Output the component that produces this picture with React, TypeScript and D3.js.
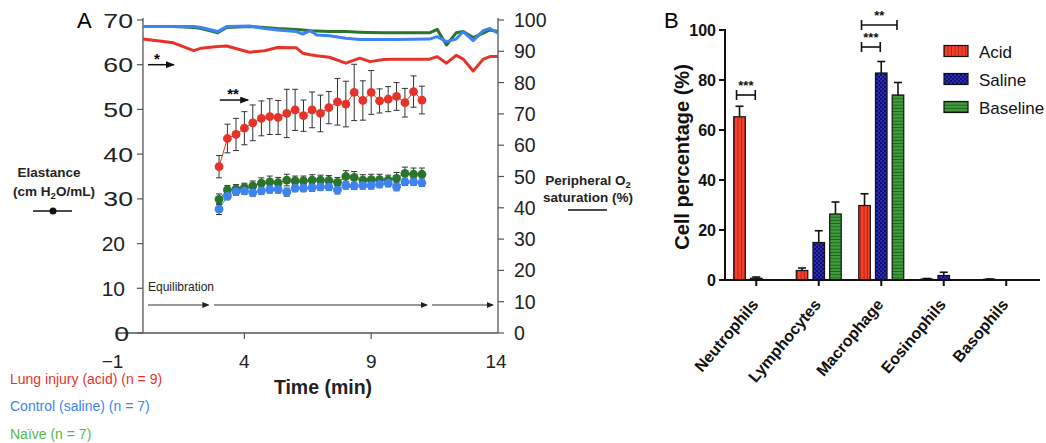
import React from 'react';
import * as d3 from 'd3';

// ---------- Panel A data ----------
const elastTime = [3, 3.33, 3.67, 4, 4.33, 4.67, 5, 5.33, 5.67, 6, 6.33, 6.67, 7, 7.33, 7.67, 8, 8.33, 8.67, 9, 9.33, 9.67, 10, 10.33, 10.67, 11];
const acidE = [37.2, 43.5, 44.4, 45.8, 47.0, 48.0, 48.4, 48.2, 49.1, 49.9, 48.6, 49.9, 49.1, 50.4, 51.7, 51.2, 53.8, 52.0, 53.8, 51.9, 52.3, 52.9, 51.5, 54.0, 52.1];
const acidEErr = [2.5, 3.2, 3.6, 3.7, 4.0, 3.9, 4.0, 3.8, 5.4, 4.6, 3.5, 4.0, 4.1, 3.6, 5.2, 5.1, 6.3, 4.4, 4.9, 2.7, 2.8, 3.1, 3.2, 3.5, 3.1];
const naiveE = [29.9, 32.0, 32.2, 32.5, 32.9, 33.5, 33.8, 33.6, 34.2, 34.0, 34.0, 34.2, 34.2, 34.1, 33.7, 35.0, 34.8, 34.2, 34.3, 34.3, 34.2, 34.6, 35.7, 35.5, 35.5];
const naiveEErr = [1.2, 1.0, 1.0, 1.0, 1.1, 1.2, 1.3, 1.2, 1.3, 1.1, 1.1, 1.2, 1.1, 1.1, 1.1, 1.3, 1.3, 1.2, 1.2, 1.2, 1.1, 1.3, 1.4, 1.4, 1.4];
const salineE = [27.7, 30.6, 31.6, 31.8, 31.4, 31.8, 32.1, 32.1, 31.5, 32.4, 32.4, 32.5, 32.7, 32.7, 32.0, 33.0, 32.9, 33.0, 33.0, 33.3, 33.5, 32.7, 33.8, 33.8, 33.6];
const salineEErr = [1.2, 0.8, 0.8, 0.8, 0.8, 0.8, 0.8, 0.8, 0.9, 0.8, 0.8, 0.8, 0.8, 0.8, 0.9, 0.8, 0.8, 0.8, 0.8, 0.8, 0.8, 0.9, 0.8, 0.8, 0.8];

const o2Time = [0, 1.2, 2.0, 2.3, 2.95, 3.3, 4.2, 4.8, 5.3, 6.05, 6.3, 6.6, 6.85, 7.35, 8.0, 8.55, 8.95, 9.5, 10.0, 11.3, 11.6, 11.97, 12.35, 12.63, 13.02, 13.42, 13.68, 14.0];
const acidO2 = [93.9, 92.7, 90.2, 91.0, 91.5, 91.7, 89.7, 90.2, 91.2, 91.1, 89.4, 88.9, 88.6, 88.1, 86.2, 87.8, 86.7, 87.4, 87.5, 87.5, 88.3, 86.2, 88.7, 87.5, 83.7, 87.5, 88.3, 88.3];
const naiveO2 = [97.9, 97.9, 97.6, 97.3, 95.9, 97.6, 97.9, 97.6, 97.3, 97.0, 96.8, 96.6, 96.5, 96.3, 96.3, 96.1, 96.0, 95.9, 95.9, 95.9, 97.0, 92.0, 95.9, 96.3, 94.4, 95.8, 96.8, 96.3];
const salineO2 = [97.9, 97.9, 97.9, 97.6, 96.3, 97.9, 98.1, 97.3, 96.8, 96.3, 95.5, 96.6, 95.2, 95.0, 94.2, 93.8, 93.8, 93.8, 93.8, 93.9, 94.7, 93.1, 93.9, 96.3, 93.4, 96.6, 97.3, 95.8];

const leftTicks = [0, 10, 20, 30, 40, 50, 60, 70];
const rightTicks = [0, 10, 20, 30, 40, 50, 60, 70, 80, 90, 100];
const timeTicks = [-1, 4, 9, 14];
const groupLabels = ['Lung injury (acid) (n = 9)', 'Control (saline) (n = 7)', 'Naïve (n = 7)'];

// ---------- Panel B data ----------
const cellCats = ['Neutrophils', 'Lymphocytes', 'Macrophage', 'Eosinophils', 'Basophils'];
const barGroups = ['Acid', 'Saline', 'Baseline'];
const acidPct = [65.3, 3.8, 29.8, 0.4, 0.3];
const acidPctErr = [4.2, 1.0, 4.7, 0.2, 0.1];
const salinePct = [0.7, 15.0, 82.8, 1.8, 0];
const salinePctErr = [0.5, 4.7, 4.6, 1.3, 0];
const baselinePct = [0, 26.4, 74.0, 0, 0];
const baselinePctErr = [0, 4.8, 5.0, 0, 0];
const pctTicks = [0, 20, 40, 60, 80, 100];

const FONT = '"Liberation Sans", Arial, Helvetica, sans-serif';
const RED = '#e6332a';
const BLUE = '#3d84f2';
const GREEN = '#2a752c';

export default function App() {
  // Panel A scales
  const xA = d3.scaleLinear().domain([-1, 14]).range([117.6, 498]);
  const yL = d3.scaleLinear().domain([0, 70]).range([333, 20]);
  const yR = d3.scaleLinear().domain([0, 100]).range([333, 20]);

  // Panel B scales
  const xB = d3.scaleBand<string>().domain(cellCats).range([725, 1037.5]);
  const xInner = d3.scaleBand<string>().domain(barGroups).range([-25, 25]).paddingInner(0.31).paddingOuter(0.15);
  const yB = d3.scaleLinear().domain([0, 100]).range([280, 30]);

  const o2Line = (vals: number[]) =>
    d3.line<number>().x((_, i) => xA(o2Time[i])).y((d) => yR(d))(vals) || '';
  const eLine = (vals: number[]) =>
    d3.line<number>().x((_, i) => xA(elastTime[i])).y((d) => yL(d))(vals) || '';

  const elastSeries = [
    { vals: naiveE, errs: naiveEErr, color: GREEN },
    { vals: salineE, errs: salineEErr, color: BLUE },
    { vals: acidE, errs: acidEErr, color: RED },
  ];

  const barSeries = [
    { name: 'Acid', vals: acidPct, errs: acidPctErr, fill: 'url(#patAcid)' },
    { name: 'Saline', vals: salinePct, errs: salinePctErr, fill: 'url(#patSaline)' },
    { name: 'Baseline', vals: baselinePct, errs: baselinePctErr, fill: 'url(#patBaseline)' },
  ];

  const barCenter = (cat: string, g: string) => (xB(cat) as number) + xB.bandwidth() / 2 + (xInner(g) as number) + xInner.bandwidth() / 2;

  const sigBrackets = [
    { cat: 'Neutrophils', to: 'Saline', level: 0, label: '***' },
    { cat: 'Macrophage', to: 'Saline', level: 0, label: '***' },
    { cat: 'Macrophage', to: 'Baseline', level: 1, label: '**' },
  ];
  const bracketY = (b: { cat: string; level: number }) =>
    b.cat === 'Neutrophils' ? yB(74) : b.level === 0 ? yB(93.2) : yB(102);

  return (
    <svg width={1046} height={443} style={{ position: 'absolute', left: 0, top: 0, background: '#fff' }} fontFamily={FONT}>
      <defs>
        <marker id="arrowBig" markerUnits="userSpaceOnUse" markerWidth={9} markerHeight={7} refX={8} refY={3.5} orient="auto">
          <path d="M0,0 L9,3.5 L0,7 z" fill="#111" />
        </marker>
        <marker id="arrowSmall" markerUnits="userSpaceOnUse" markerWidth={7} markerHeight={6} refX={6} refY={3} orient="auto">
          <path d="M0,0 L7,3 L0,6 z" fill="#222" />
        </marker>
        <pattern id="patAcid" patternUnits="userSpaceOnUse" width={3.5} height={4}>
          <rect width={3.5} height={4} fill="#f3402c" />
          <rect x={2.6} width={0.9} height={4} fill="#b3241a" />
        </pattern>
        <pattern id="patSaline" patternUnits="userSpaceOnUse" width={4} height={4}>
          <rect width={4} height={4} fill="#121260" />
          <rect width={2} height={2} fill="#2b2bc0" />
          <rect x={2} y={2} width={2} height={2} fill="#2b2bc0" />
        </pattern>
        <pattern id="patBaseline" patternUnits="userSpaceOnUse" width={4} height={3.2}>
          <rect width={4} height={3.2} fill="#3f9c3c" />
          <rect y={2.3} width={4} height={0.9} fill="#1f5f1f" />
        </pattern>
      </defs>

      {/* ================= Panel A ================= */}
      <text x={77} y={28} fontSize={22}>A</text>

      {/* axes */}
      <line x1={xA(-1)} x2={xA(14)} y1={yL(0)} y2={yL(0)} stroke="#555" strokeWidth={1.3} />
      <line x1={xA(0)} x2={xA(0)} y1={yL(0)} y2={yL(70) - 2} stroke="#555" strokeWidth={1.3} />
      <line x1={xA(14)} x2={xA(14)} y1={yR(0)} y2={yR(100) - 2} stroke="#555" strokeWidth={1.3} />
      {leftTicks.map((t) => {
        const narrow = t === 10 || t === 20;
        return (
          <g key={'lt' + t}>
            <line x1={xA(0) - 6} x2={xA(0)} y1={yL(t)} y2={yL(t)} stroke="#555" strokeWidth={1.2} />
            <text
              transform={`translate(${narrow ? 125 : t === 0 ? 129 : 133},${yL(t) + 7.5}) scale(${narrow ? 1 : 1.27},1)`}
              textAnchor="end"
              fontSize={21}
              fill="#222"
            >
              {t}
            </text>
          </g>
        );
      })}
      {rightTicks.map((t) => (
        <g key={'rt' + t}>
          <line x1={xA(14)} x2={xA(14) + 6} y1={yR(t)} y2={yR(t)} stroke="#555" strokeWidth={1.2} />
          <text x={514} y={yR(t) + 7} fontSize={19.5} fill="#222">{t}</text>
        </g>
      ))}
      {timeTicks.map((t) => (
        <g key={'tt' + t}>
          {t > 0 && t < 14 && <line x1={xA(t)} x2={xA(t)} y1={yL(0)} y2={yL(0) + 6} stroke="#555" strokeWidth={1.2} />}
          <text x={t === -1 ? xA(t) - 5 : t === 14 ? xA(t) - 2 : xA(t)} y={368} textAnchor="middle" fontSize={19} fill="#222">
            {t < 0 ? '\u2212' + Math.abs(t) : t}
          </text>
        </g>
      ))}
      <text x={323} y={394} textAnchor="middle" fontSize={19.5} fontWeight="bold" fill="#222">Time (min)</text>

      {/* O2 saturation lines */}
      <path d={o2Line(acidO2)} fill="none" stroke={RED} strokeWidth={3} strokeLinejoin="round" />
      <path d={o2Line(naiveO2)} fill="none" stroke={GREEN} strokeWidth={3} strokeLinejoin="round" />
      <path d={o2Line(salineO2)} fill="none" stroke={BLUE} strokeWidth={3} strokeLinejoin="round" />

      {/* elastance series */}
      {elastSeries.map((s, si) => (
        <g key={'es' + si}>
          <path d={eLine(s.vals)} fill="none" stroke={s.color} strokeWidth={1} />
          {s.vals.map((v, i) => {
            const cx = xA(elastTime[i]);
            const y1 = yL(v - s.errs[i]);
            const y2 = yL(v + s.errs[i]);
            return (
              <g key={i} stroke="#333" strokeWidth={1}>
                <line x1={cx} x2={cx} y1={y1} y2={y2} />
                <line x1={cx - 3} x2={cx + 3} y1={y1} y2={y1} />
                <line x1={cx - 3} x2={cx + 3} y1={y2} y2={y2} />
              </g>
            );
          })}
          {s.vals.map((v, i) => (
            <circle key={'c' + i} cx={xA(elastTime[i])} cy={yL(v)} r={4.4} fill={s.color} />
          ))}
        </g>
      ))}

      {/* significance arrows */}
      <line x1={xA(0.2)} x2={xA(1.22)} y1={yL(60)} y2={yL(60)} stroke="#111" strokeWidth={1.5} markerEnd="url(#arrowBig)" />
      <text x={xA(0.55)} y={yL(60) - 1} textAnchor="middle" fontSize={15} fontWeight="bold">*</text>
      <line x1={xA(3.03)} x2={xA(4.15)} y1={yL(52.1)} y2={yL(52.1)} stroke="#111" strokeWidth={1.5} markerEnd="url(#arrowBig)" />
      <text x={xA(3.55)} y={yL(52.1) - 1} textAnchor="middle" fontSize={15} fontWeight="bold">**</text>

      {/* equilibration arrows */}
      <text x={148} y={291} fontSize={12} fill="#222">Equilibration</text>
      <line x1={xA(0.2)} x2={xA(2.58)} y1={305} y2={305} stroke="#333" strokeWidth={1} markerEnd="url(#arrowSmall)" />
      <line x1={xA(2.8)} x2={xA(11.2)} y1={305} y2={305} stroke="#333" strokeWidth={1} markerEnd="url(#arrowSmall)" />
      <line x1={xA(11.4)} x2={xA(13.8)} y1={305} y2={305} stroke="#333" strokeWidth={1} markerEnd="url(#arrowSmall)" />

      {/* axis titles */}
      <text x={49} y={177} textAnchor="middle" fontSize={13.5} fontWeight="bold" fill="#222">Elastance</text>
      <text x={54} y={196} textAnchor="middle" fontSize={13.5} fontWeight="bold" fill="#222">
        (cm H<tspan fontSize={9.5} dy={3}>2</tspan><tspan dy={-3}>O/mL)</tspan>
      </text>
      <line x1={33} x2={72} y1={211} y2={211} stroke="#111" strokeWidth={1.5} />
      <circle cx={53} cy={211} r={3.5} fill="#111" />

      <text x={588} y={185} textAnchor="middle" fontSize={13.5} fontWeight="bold" fill="#222">
        Peripheral O<tspan fontSize={9.5} dy={3}>2</tspan>
      </text>
      <text x={588} y={202} textAnchor="middle" fontSize={13.5} fontWeight="bold" fill="#222">saturation (%)</text>
      <line x1={568} x2={607} y1={210} y2={210} stroke="#111" strokeWidth={1.5} />

      {/* group legend */}
      {groupLabels.map((g, i) => (
        <text key={g} x={10} y={384 + i * 27.3} fontSize={14} fill={[RED, BLUE, '#57b94a'][i]}>{g}</text>
      ))}

      {/* ================= Panel B ================= */}
      <text x={664} y={28} fontSize={22}>B</text>

      {/* bars */}
      {barSeries.map((s) => (
        <g key={s.name}>
          {s.vals.map((v, i) => {
            const cat = cellCats[i];
            const x0 = (xB(cat) as number) + xB.bandwidth() / 2 + (xInner(s.name) as number);
            const cx = x0 + xInner.bandwidth() / 2;
            if (v <= 0) return null;
            return (
              <g key={cat}>
                {s.errs[i] > 0 && (
                  <g stroke="#111" strokeWidth={1.6}>
                    <line x1={cx} x2={cx} y1={yB(v)} y2={yB(v + s.errs[i])} />
                    <line x1={cx - 4} x2={cx + 4} y1={yB(v + s.errs[i])} y2={yB(v + s.errs[i])} />
                  </g>
                )}
                <rect x={x0} y={yB(v)} width={xInner.bandwidth()} height={yB(0) - yB(v)} fill={s.fill} stroke="#111" strokeWidth={1.2} />
              </g>
            );
          })}
        </g>
      ))}

      {/* B axes */}
      <line x1={725} x2={725} y1={yB(0)} y2={yB(100) - 1} stroke="#111" strokeWidth={2} />
      <line x1={725} x2={1040} y1={yB(0)} y2={yB(0)} stroke="#111" strokeWidth={2} />
      {pctTicks.map((t) => (
        <g key={'pt' + t}>
          <line x1={719} x2={725} y1={yB(t)} y2={yB(t)} stroke="#111" strokeWidth={2} />
          <text x={716} y={yB(t) + 6} textAnchor="end" fontSize={16} fontWeight="bold" fill="#111">{t}</text>
        </g>
      ))}
      {cellCats.map((c) => {
        const cx = (xB(c) as number) + xB.bandwidth() / 2;
        return (
          <g key={'ct' + c}>
            <line x1={cx} x2={cx} y1={yB(0)} y2={yB(0) + 6} stroke="#111" strokeWidth={2} />
            <text transform={`translate(${cx + 3},${305}) rotate(-50)`} textAnchor="end" fontSize={16} fontWeight="bold" fill="#111">{c}</text>
          </g>
        );
      })}
      <text transform="translate(689,157) rotate(-90)" textAnchor="middle" fontSize={20} fontWeight="bold" fill="#111">Cell percentage (%)</text>

      {/* significance brackets */}
      {sigBrackets.map((b, i) => {
        const x1 = barCenter(b.cat, 'Acid') - 3;
        const x2 = barCenter(b.cat, b.to) - 1;
        const y = bracketY(b);
        return (
          <g key={'sb' + i} stroke="#111" strokeWidth={1.6}>
            <line x1={x1} x2={x2} y1={y} y2={y} />
            <line x1={x1} x2={x1} y1={y - 5} y2={y + 5} />
            <line x1={x2} x2={x2} y1={y - 5} y2={y + 5} />
            <text x={(x1 + x2) / 2} y={y - 5} textAnchor="middle" fontSize={13} fontWeight="bold" stroke="none" fill="#111">{b.label}</text>
          </g>
        );
      })}

      {/* B legend */}
      {barSeries.map((s, i) => (
        <g key={'lg' + s.name}>
          <rect x={944} y={45.5 + i * 28} width={24} height={11} fill={s.fill} stroke="#111" strokeWidth={1.2} />
          <text x={979} y={57.5 + i * 28} fontSize={17} fill="#111">{s.name}</text>
        </g>
      ))}
    </svg>
  );
}
